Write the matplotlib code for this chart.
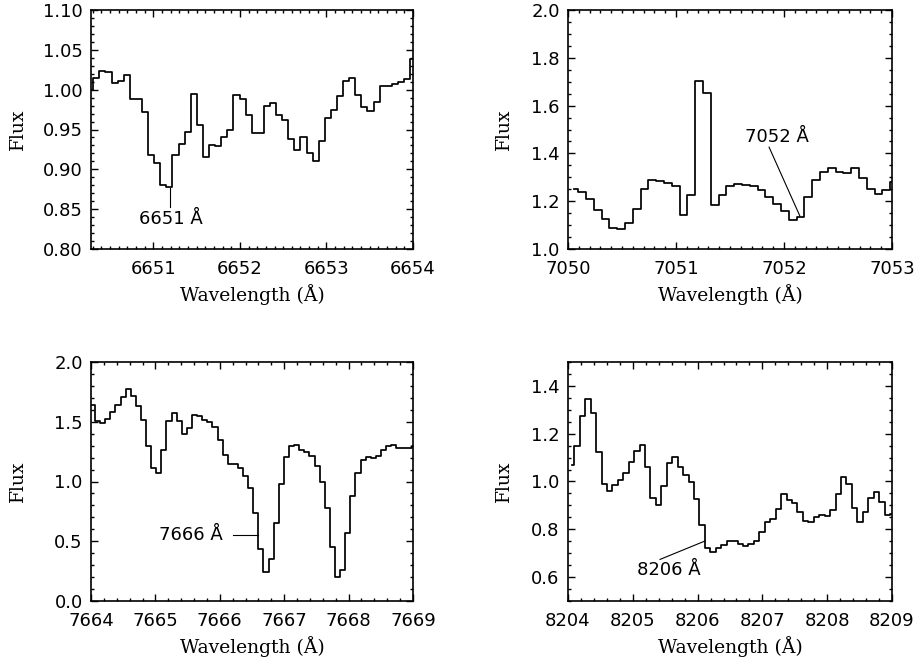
import numpy as np
import matplotlib
matplotlib.use('Agg')
import matplotlib.pyplot as plt
from matplotlib.ticker import MultipleLocator, FormatStrFormatter

# flux per pixel (first pixel centre + pixel width in A)
w0_6651, dw_6651 = 6650.271, 0.0704
flux_6651 = [1.000, 1.015, 1.024, 1.022, 1.008, 1.011, 1.018, 0.988, 0.988, 0.972,
             0.918, 0.908, 0.880, 0.878, 0.918, 0.932, 0.947, 0.995, 0.956, 0.916,
             0.930, 0.929, 0.940, 0.949, 0.993, 0.988, 0.968, 0.946, 0.945, 0.979,
             0.983, 0.968, 0.962, 0.938, 0.924, 0.941, 0.920, 0.910, 0.936, 0.965,
             0.975, 0.992, 1.011, 1.015, 0.993, 0.978, 0.973, 0.985, 1.005, 1.005,
             1.007, 1.010, 1.014, 1.039, 1.035]

w0_7052, dw_7052 = 7050.059, 0.0722
flux_7052 = [1.249, 1.240, 1.210, 1.164, 1.125, 1.089, 1.082, 1.110, 1.167, 1.249,
             1.290, 1.285, 1.275, 1.264, 1.143, 1.226, 1.704, 1.654, 1.185, 1.226,
             1.265, 1.274, 1.268, 1.262, 1.246, 1.219, 1.190, 1.157, 1.121, 1.135,
             1.218, 1.288, 1.322, 1.340, 1.321, 1.317, 1.339, 1.299, 1.249, 1.232,
             1.246, 1.280]

w0_7666, dw_7666 = 7664.022, 0.0793
flux_7666 = [1.636, 1.507, 1.493, 1.521, 1.583, 1.641, 1.703, 1.776, 1.717, 1.630,
             1.513, 1.297, 1.112, 1.070, 1.266, 1.507, 1.574, 1.504, 1.398, 1.448,
             1.555, 1.549, 1.513, 1.499, 1.457, 1.350, 1.218, 1.148, 1.143, 1.112,
             1.048, 0.944, 0.734, 0.434, 0.246, 0.350, 0.653, 0.975, 1.202, 1.294,
             1.303, 1.261, 1.246, 1.213, 1.126, 0.994, 0.779, 0.454, 0.202, 0.258,
             0.569, 0.882, 1.070, 1.176, 1.204, 1.196, 1.210, 1.261, 1.297, 1.303,
             1.283, 1.277, 1.283, 1.300]

w0_8206, dw_8206 = 8204.055, 0.0840
flux_8206 = [1.069, 1.148, 1.273, 1.345, 1.288, 1.125, 0.990, 0.960, 0.986, 1.007,
             1.037, 1.080, 1.129, 1.152, 1.062, 0.929, 0.902, 0.982, 1.079, 1.104,
             1.062, 1.026, 0.996, 0.927, 0.818, 0.723, 0.706, 0.720, 0.733, 0.752,
             0.751, 0.737, 0.730, 0.740, 0.751, 0.789, 0.831, 0.843, 0.885, 0.946,
             0.924, 0.910, 0.871, 0.835, 0.830, 0.852, 0.861, 0.855, 0.879, 0.949,
             1.019, 0.990, 0.888, 0.830, 0.871, 0.933, 0.957, 0.913, 0.860, 0.866]

plt.rcParams['font.family'] = 'DejaVu Sans'
plt.rcParams['font.size'] = 13
serif = 'DejaVu Serif'

fig = plt.figure(figsize=(9.18, 6.61), dpi=100)
W, H = 918.0, 661.0
ax1 = fig.add_axes([91/W, 1-249/H, 322/W, 239/H])
ax2 = fig.add_axes([568/W, 1-249/H, 324/W, 239/H])
ax3 = fig.add_axes([91/W, 1-601/H, 322/W, 239/H])
ax4 = fig.add_axes([568/W, 1-601/H, 324/W, 239/H])


def setup(ax, xlim, ylim, xminor, ymajor, yminor, yfmt, ylab_x):
    ax.set_xlim(xlim)
    ax.set_ylim(ylim)
    ax.xaxis.set_major_locator(MultipleLocator(1))
    ax.xaxis.set_minor_locator(MultipleLocator(xminor))
    ax.yaxis.set_major_locator(MultipleLocator(ymajor))
    ax.yaxis.set_minor_locator(MultipleLocator(yminor))
    ax.xaxis.set_major_formatter(FormatStrFormatter('%d'))
    ax.yaxis.set_major_formatter(FormatStrFormatter(yfmt))
    ax.tick_params(which='both', direction='in', top=True, right=True, width=1.0)
    ax.tick_params(which='major', length=5, labelsize=13)
    ax.tick_params(axis='x', which='major', pad=8)
    ax.tick_params(axis='y', which='major', pad=6)
    ax.tick_params(which='minor', length=2.5)
    for s in ax.spines.values():
        s.set_linewidth(1.2)
    ax.set_xlabel('Wavelength (Å)', fontfamily=serif, fontsize=13.5)
    ax.set_ylabel('Flux', fontfamily=serif, fontsize=13.5)
    ax.xaxis.set_label_coords(0.5, -0.148)
    ax.yaxis.set_label_coords(ylab_x, 0.5)


for ax, w0, dw, fl in [(ax1, w0_6651, dw_6651, flux_6651),
                       (ax2, w0_7052, dw_7052, flux_7052),
                       (ax3, w0_7666, dw_7666, flux_7666),
                       (ax4, w0_8206, dw_8206, flux_8206)]:
    wave = w0 + dw * np.arange(len(fl))
    ax.step(wave, fl, where='mid', color='black', lw=1.25)

setup(ax1, (6650.28, 6654.0), (0.80, 1.10), 0.1, 0.05, 0.01, '%.2f', -0.20)
setup(ax2, (7050, 7053), (1.0, 2.0), 0.1, 0.2, 0.05, '%.1f', -0.17)
setup(ax3, (7664, 7669), (0.0, 2.0), 0.2, 0.5, 0.1, '%.1f', -0.20)
setup(ax4, (8204, 8209), (0.5, 1.5), 0.2, 0.2, 0.05, '%.1f', -0.17)

# line labels
ax1.plot([6651.198, 6651.198], [0.877, 0.853], color='black', lw=0.8)
ax1.text(6651.198, 0.838, '6651 Å', ha='center', va='center', fontsize=13)

ax2.plot([7051.862, 7052.146], [1.426, 1.139], color='black', lw=0.8)
ax2.text(7051.93, 1.467, '7052 Å', ha='center', va='center', fontsize=13)

ax3.plot([7666.21, 7666.60], [0.55, 0.55], color='black', lw=0.8)
ax3.text(7665.55, 0.55, '7666 Å', ha='center', va='center', fontsize=13)

ax4.plot([8205.42, 8206.114], [0.674, 0.751], color='black', lw=0.8)
ax4.text(8205.55, 0.63, '8206 Å', ha='center', va='center', fontsize=13)

fig.savefig('out.png', dpi=100)
